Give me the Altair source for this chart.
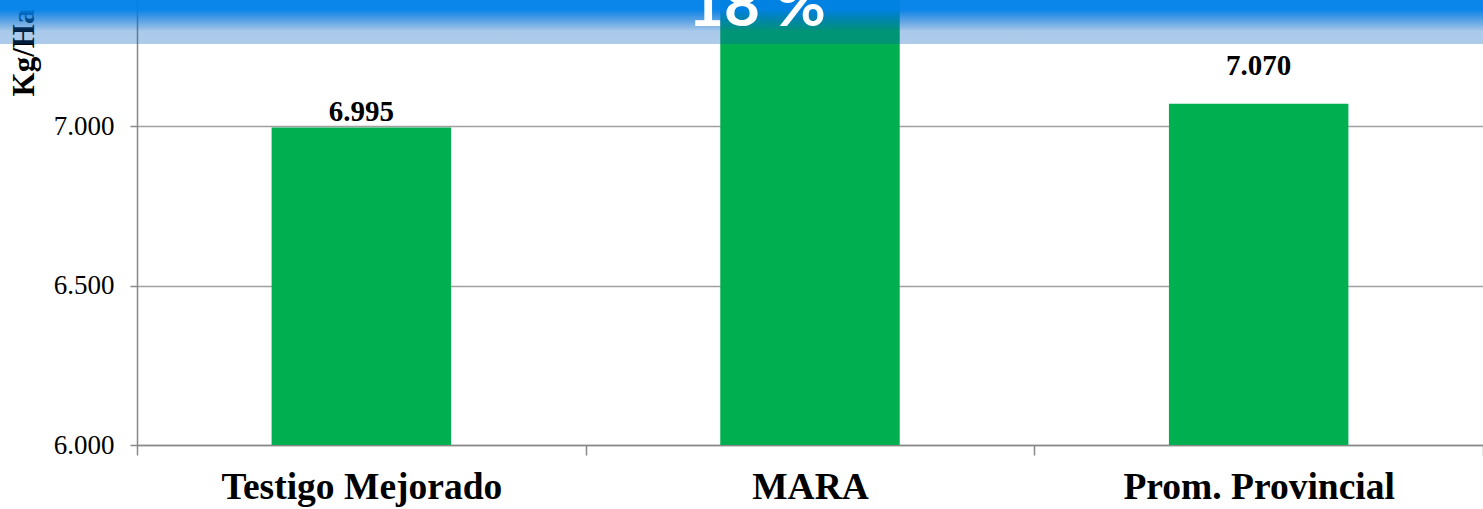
import altair as alt
import pandas as pd

categories = ["Testigo Mejorado", "MARA", "Prom. Provincial"]
values = [6995, 8250, 7070]
value_labels = ["6.995", "8.250", "7.070"]
y_ticks = [6000, 6500, 7000]
banner_text = "18 %"
y_title = "Kg/Ha"

df = pd.DataFrame({"cat": categories, "val": values, "lab": value_labels})

W, H = 1346, 445
SERIF = "Liberation Serif"

x_enc = alt.X(
    "cat:N", sort=categories, title=None,
    scale=alt.Scale(paddingInner=0, paddingOuter=0),
    axis=alt.Axis(
        labelFont=SERIF, labelFontSize=37.5, labelFontWeight="bold", labelColor="black",
        labelAngle=0, labelPadding=13, labelLimit=0, tickSize=10, tickColor="#898989", tickWidth=1.5,
        domainColor="#898989", domainWidth=1.5, tickBand="extent", grid=False,
    ),
)
y_enc = alt.Y(
    "val:Q", title=y_title,
    scale=alt.Scale(domain=[6000, 7395], nice=False, zero=False),
    axis=alt.Axis(
        values=y_ticks,
        labelExpr="replace(format(datum.value, ',.0f'), ',', '.')",
        labelFont=SERIF, labelFontSize=27, labelColor="black", labelPadding=16,
        tickSize=7, tickColor="#898989", tickWidth=1.5,
        domainColor="#898989", domainWidth=1.5,
        grid=True, gridColor="#a0a0a0", gridWidth=1.5,
        titleFont=SERIF, titleFontSize=31, titleFontWeight="bold", titleColor="black",
        titleX=-113, titleY=52, titleAlign="center", titleBaseline="middle", titleAngle=270,
    ),
)

base = alt.Chart(df)
bars = base.mark_bar(color="#00b050", clip=True, width=alt.RelativeBandSize(0.4)).encode(x=x_enc, y=y_enc)

lab_style = dict(font=SERIF, fontSize=29, fontWeight="bold", color="black", baseline="middle")
lab1 = base.transform_filter(alt.datum.cat == "Testigo Mejorado").mark_text(dy=-16, **lab_style).encode(
    x=alt.X("cat:N", sort=categories), y="val:Q", text="lab:N")
lab3 = base.transform_filter(alt.datum.cat == "Prom. Provincial").mark_text(dy=-38, **lab_style).encode(
    x=alt.X("cat:N", sort=categories), y="val:Q", text="lab:N")

one = pd.DataFrame({"t": [banner_text]})
band = alt.Chart(one).mark_rect(
    fill=alt.Gradient(
        gradient="linear", x1=0, y1=0, x2=0, y2=1,
        stops=[
            alt.GradientStop(color="rgba(0,128,232,0.96)", offset=0),
            alt.GradientStop(color="rgba(0,128,232,0.96)", offset=0.22),
            alt.GradientStop(color="rgba(0,95,195,0.33)", offset=0.72),
            alt.GradientStop(color="rgba(0,91,189,0.32)", offset=1),
        ],
    )
).encode(x=alt.value(-137), x2=alt.value(W), y=alt.value(0), y2=alt.value(44))

banner = alt.Chart(one).mark_text(
    font="Lato", fontSize=62, fontWeight="bold", color="white", align="center", baseline="alphabetic"
).encode(x=alt.value(620), y=alt.value(26), text="t:N")

chart = alt.layer(bars, lab1, lab3, band, banner).properties(
    width=W, height=H,
    autosize=alt.AutoSizeParams(type="none"),
    padding={"left": 137, "top": 0, "right": 0, "bottom": 64},
    background="white",
).configure_view(stroke=None)

chart.save("out.html", embed_options={"renderer": "svg", "actions": False})
